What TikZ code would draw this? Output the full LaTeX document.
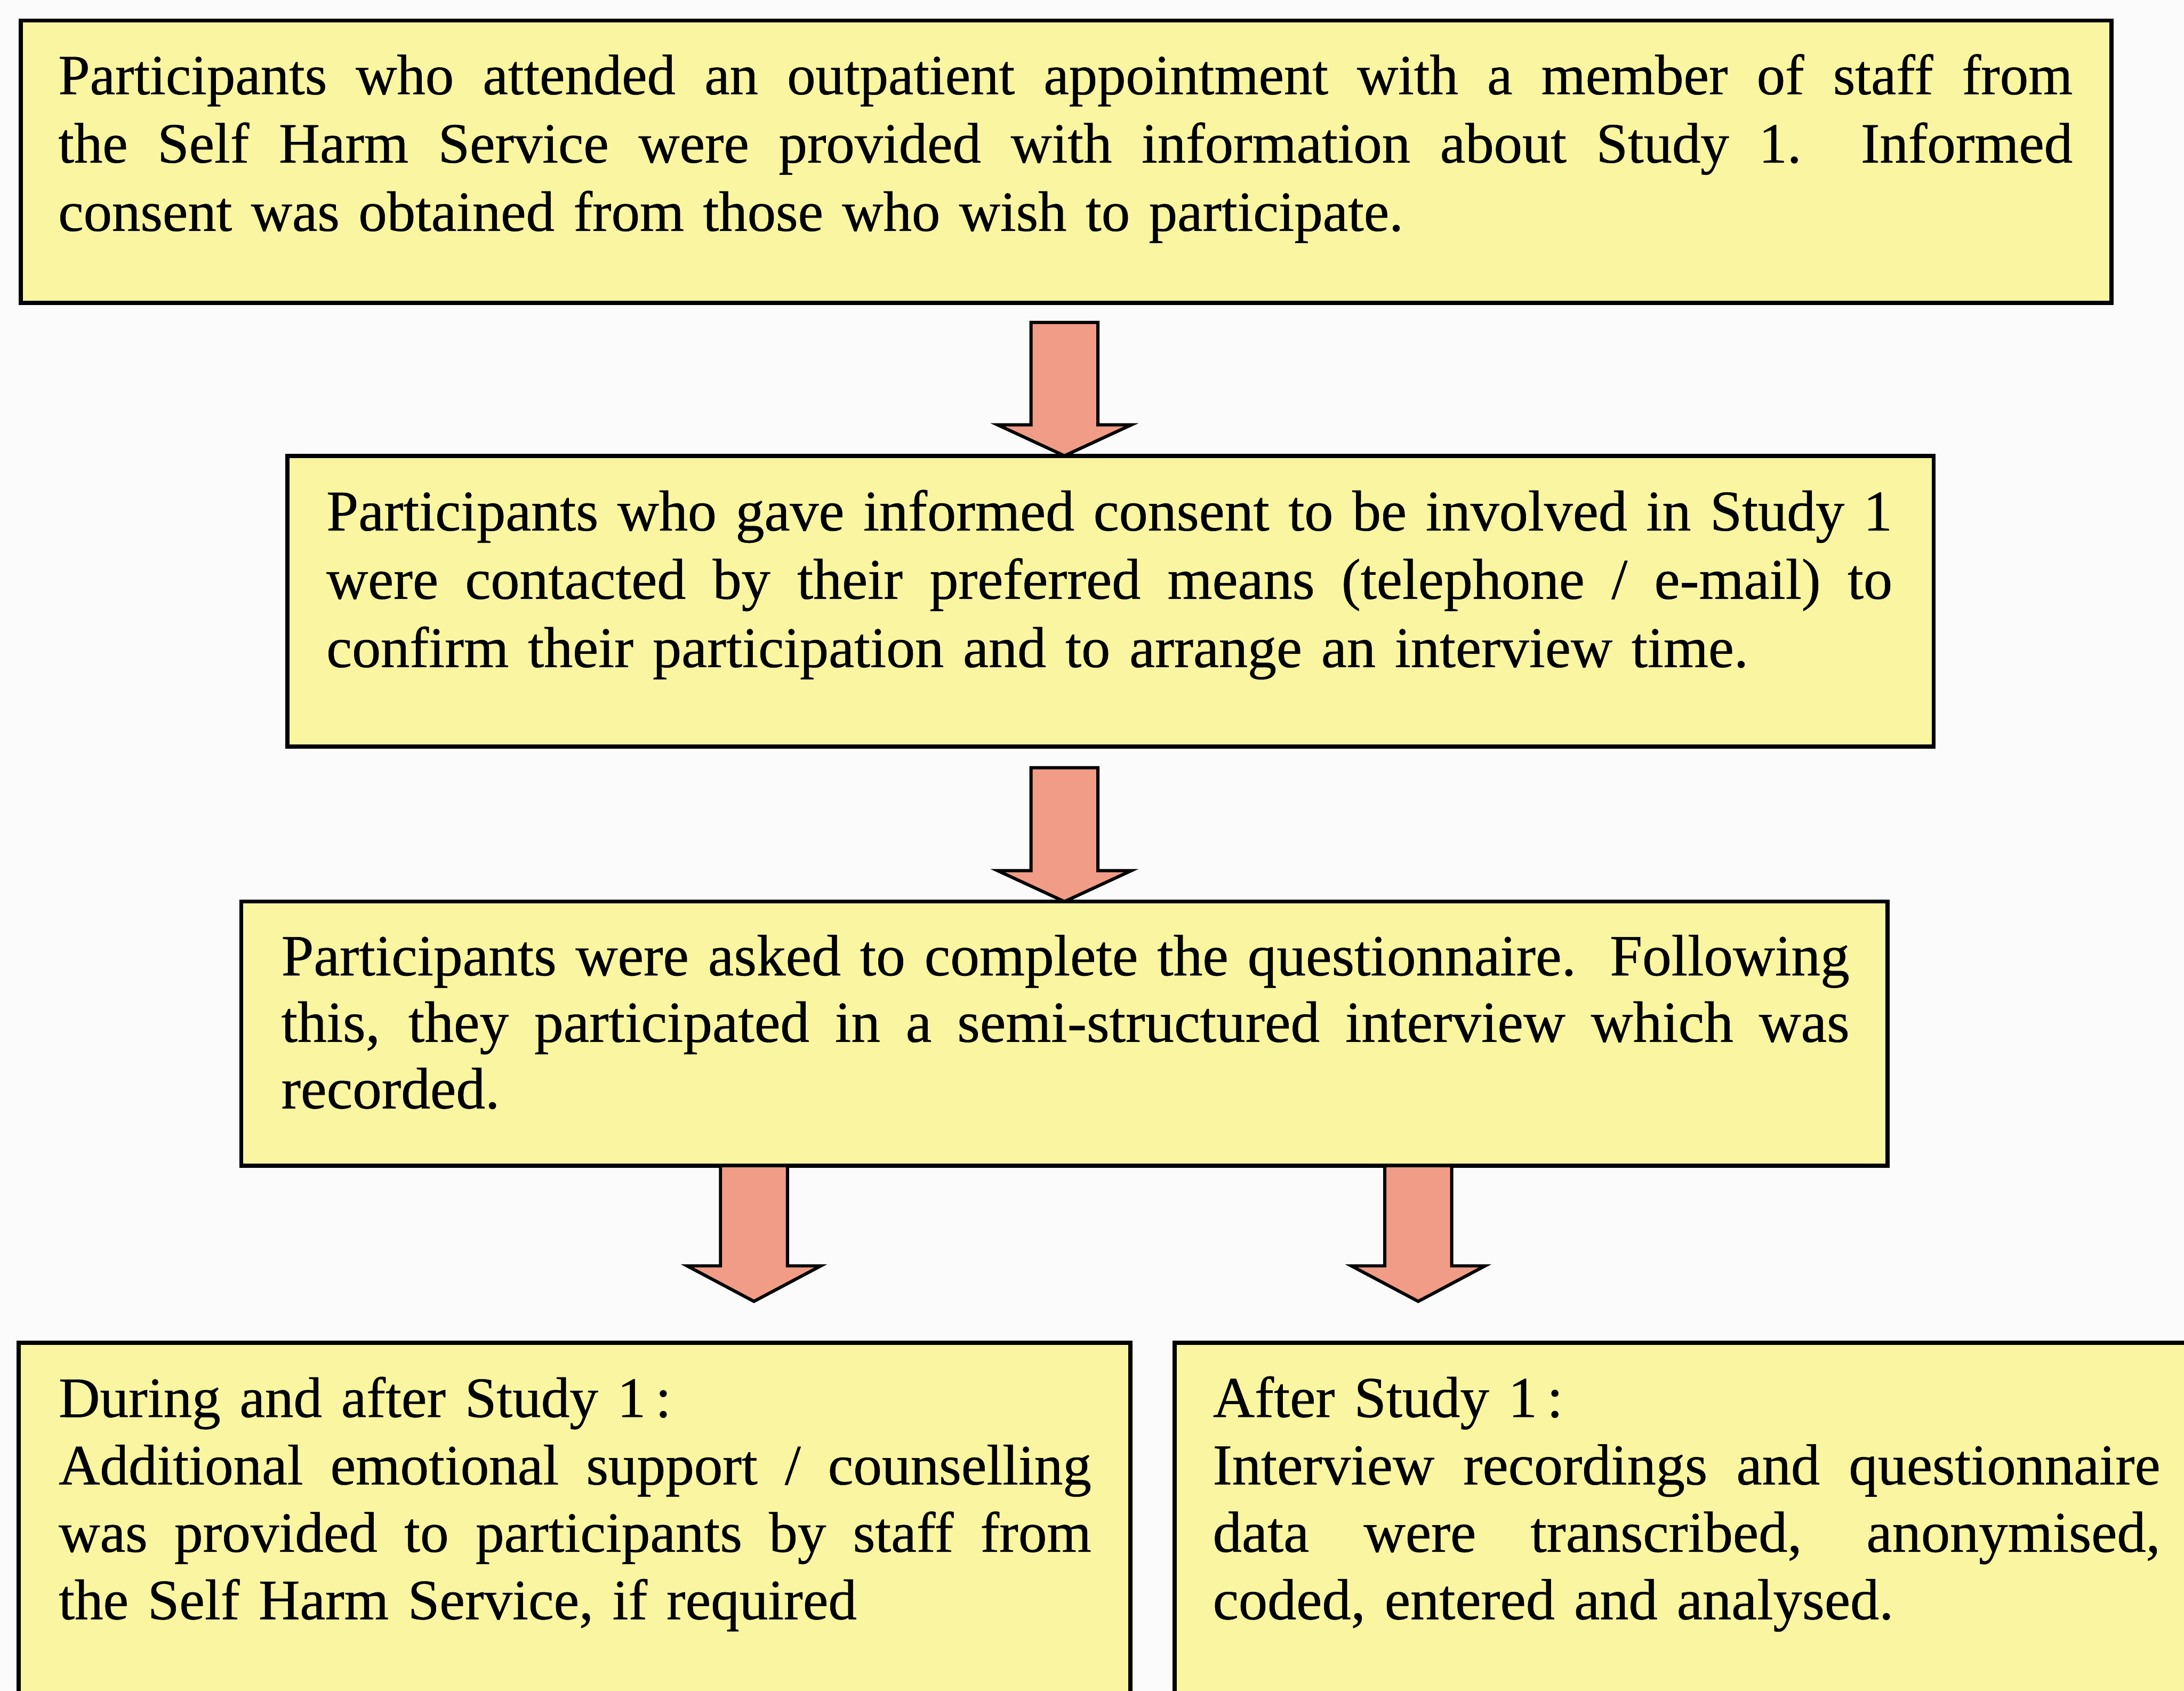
\documentclass[tikz,border=0pt]{standalone}
\usepackage{fontspec}
\setmainfont{Liberation Serif}
\newfontfamily\inkfont{Liberation Serif}[FakeBold=0.5]
\usetikzlibrary{calc}
\definecolor{boxyellow}{RGB}{249,245,160}
\definecolor{arrowpink}{RGB}{240,156,134}
\definecolor{paper}{RGB}{252,251,252}
\newcommand\jl[2]{{\spaceskip=0.25em plus 2em minus 0.1em\relax
  \xspaceskip=0.5em plus 2em minus 0.1em\relax\makebox[#1][s]{#2}}}
\newcommand\fatarrow[3]{%
  \draw[blockarrow] let \p1=(#1), \p2=(#2) in
    (\x1-7.35pt,\y1) -- (\x1-7.35pt,\y2+#3) -- (\x1-14.7pt,\y2+#3) -- (\x1,\y2)
    -- (\x1+14.7pt,\y2+#3) -- (\x1+7.35pt,\y2+#3) -- (\x1+7.35pt,\y1) -- cycle;}
\begin{document}
\begin{tikzpicture}[x=1pt,y=1pt,
  box/.style={draw=black, line width=0.9pt, fill=boxyellow, rectangle,
    inner sep=0pt, outer sep=0pt, anchor=north west},
  txt/.style={anchor=base west, inner sep=0pt, outer sep=0pt, align=left,
    font=\inkfont\fontsize{12.8}{15}\selectfont},
  blockarrow/.style={draw=black, line width=0.7pt, fill=arrowpink, line join=miter}]
\useasboundingbox (0,0) rectangle (479.7,-371.3);
\fill[paper] (0,0) rectangle (479.7,-371.3);
\begin{scope}
\clip (0,0) rectangle (479.7,-371.3);
% boxes
\node[box, minimum width=459.2pt, minimum height=62pt] (b1) at (4.6,-4.5) {};
\node[box, minimum width=361.6pt, minimum height=63.9pt] (b2) at (63.1,-100.1) {};
\node[box, minimum width=361.6pt, minimum height=58pt] (b3) at (53.0,-198.0) {};
\node[box, minimum width=244.2pt, minimum height=100pt] (b4) at (4.1,-294.9) {};
\node[box, minimum width=250pt, minimum height=100pt] (b5) at (258.0,-294.9) {};
% texts
\node[txt, text width=442.4pt, font=\inkfont\fontsize{12.5}{15}\selectfont] (t1) at (12.8,-20.7)
  {\jl{442.4pt}{Participants who attended an outpatient appointment with a member of staff from}\\
   \jl{442.4pt}{the Self Harm Service were provided with information about Study 1.\ \ Informed}\\
   consent was obtained from those who wish to participate.};
\node[txt, text width=343.9pt, font=\inkfont\fontsize{12.65}{15}\selectfont] (t2) at (71.7,-116.5)
  {\jl{343.9pt}{Participants who gave informed consent to be involved in Study 1}\\
   \jl{343.9pt}{were contacted by their preferred means (telephone / e-mail) to}\\
   confirm their participation and to arrange an interview time.};
\node[txt, text width=344.4pt, font=\inkfont\fontsize{12.8}{14.6}\selectfont] (t3) at (61.8,-214.2)
  {\jl{344.4pt}{Participants were asked to complete the questionnaire. Following}\\
   \jl{344.4pt}{this, they participated in a semi-structured interview which was}\\
   recorded.};
\node[txt, text width=226.8pt, font=\inkfont\fontsize{12.55}{14.8}\selectfont] (t4) at (12.9,-311.2)
  {During and after Study 1\,:\\
   \jl{226.8pt}{Additional emotional support / counselling}\\
   \jl{226.8pt}{was provided to participants by staff from}\\
   the Self Harm Service, if required};
\node[txt, text width=208.1pt, font=\inkfont\fontsize{12.7}{14.8}\selectfont] (t5) at (266.4,-311.2)
  {After Study 1\,:\\
   \jl{208.1pt}{Interview recordings and questionnaire}\\
   \jl{208.1pt}{data were transcribed, anonymised,}\\
   coded, entered and analysed.};
% arrow anchors
\coordinate (a1s) at ($(b1.south)+(-0.4,-4.3)$);
\coordinate (a1e) at (a1s |- b2.north);
\coordinate (a2s) at ($(b2.south -| a1s)+(0,-4.6)$);
\coordinate (a2e) at (a2s |- b3.north);
\coordinate (a3s) at ($(b3.south west)+(112.6,0)$);
\coordinate (a3e) at ($(a3s |- b4.north)+(0,9.1)$);
\coordinate (a4s) at ($(b3.south west)+(258.5,0)$);
\coordinate (a4e) at ($(a4s |- b4.north)+(0,9.1)$);
\fatarrow{a1s}{a1e}{6.8pt}
\fatarrow{a2s}{a2e}{6.8pt}
\fatarrow{a3s}{a3e}{7.8pt}
\fatarrow{a4s}{a4e}{7.8pt}
\end{scope}
\end{tikzpicture}
\end{document}
